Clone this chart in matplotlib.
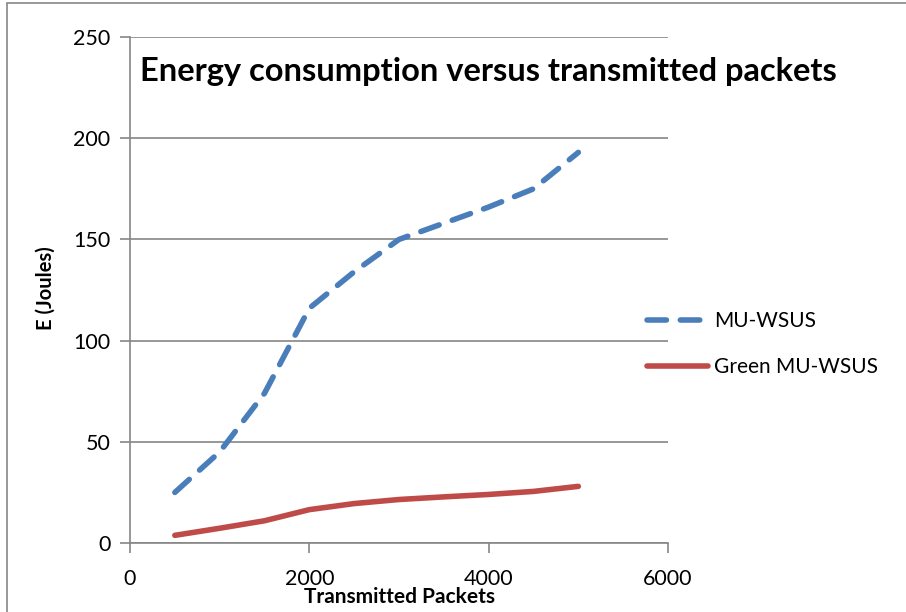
import matplotlib
matplotlib.use("Agg")
import matplotlib.pyplot as plt
from matplotlib.patches import Rectangle

packets = [500, 1000, 1500, 2000, 2500, 3000, 3500, 4000, 4500, 5000]
mu_wsus = [25, 45, 74, 116, 134, 150, 158, 166, 175, 193]
green_mu_wsus = [3.8, 7.3, 11, 16.5, 19.5, 21.5, 22.8, 24, 25.5, 28]

plt.rcParams["font.family"] = ["Lato", "DejaVu Sans"]

fig = plt.figure(figsize=(9.06, 6.12), dpi=100)
ax = fig.add_axes([0.1435, 0.1127, 0.7373 - 0.1435, 0.9395 - 0.1127])

ax.plot(packets, mu_wsus, color="#4a7ebb", lw=4, ls=(0, (3.5, 2.5)),
        solid_capstyle="round", dash_capstyle="round", label="MU-WSUS")
ax.plot(packets, green_mu_wsus, color="#be4b48", lw=4,
        solid_capstyle="round", label="Green MU-WSUS")

ax.set_xlim(0, 6000)
ax.set_ylim(0, 250)
ax.set_xticks([0, 2000, 4000, 6000])
ax.set_yticks([0, 50, 100, 150, 200, 250])
ax.grid(axis="y", color="#868686", lw=1.2)
ax.set_axisbelow(True)
for s in ["top", "right"]:
    ax.spines[s].set_visible(False)
for s in ["left", "bottom"]:
    ax.spines[s].set_color("#868686")
    ax.spines[s].set_linewidth(1.2)
ax.tick_params(colors="#868686", length=7, width=1.2, labelsize=15.5, labelcolor="black")
ax.tick_params(axis="y", pad=7)
ax.tick_params(axis="x", pad=12)

ax.set_xlabel("Transmitted Packets", fontsize=15, fontweight="bold", labelpad=-2)
ax.set_ylabel("E (Joules)", fontsize=14.5, fontweight="bold")
ax.yaxis.set_label_coords(-0.139, 0.503)
ax.text(0.018, 0.96, "Energy consumption versus transmitted packets",
        transform=ax.transAxes, fontsize=23.5, fontweight="bold", va="top", ha="left")

ax.legend(loc="center left", bbox_to_anchor=(0.927, 0.393), frameon=False,
          fontsize=15, handlelength=2.9, labelspacing=1.25, handletextpad=0.3)

fig.patches.append(Rectangle((0.008, -0.01), 1.2, 1.005, transform=fig.transFigure,
                             fill=False, edgecolor="#868686", lw=1.2))

fig.savefig("out.png", dpi=100)
